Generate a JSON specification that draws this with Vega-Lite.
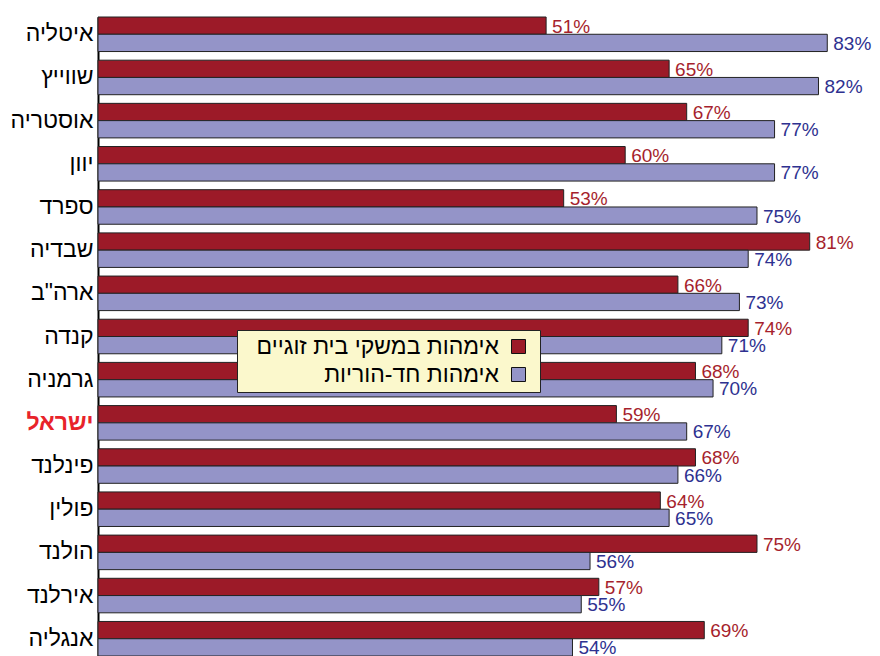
{
  "$schema": "https://vega.github.io/schema/vega-lite/v6.json",
  "width": 782,
  "height": 639,
  "autosize": {"type": "none"},
  "padding": {"left": 98, "top": 17, "right": 0, "bottom": 0},
  "background": "white",
  "config": {"view": {"stroke": null}, "font": "Liberation Sans"},
  "data": {
    "values": [
      {"country": "איטליה", "type": "אימהות במשקי בית זוגיים", "value": 0.51},
      {"country": "איטליה", "type": "אימהות חד-הוריות", "value": 0.83},
      {"country": "שווייץ", "type": "אימהות במשקי בית זוגיים", "value": 0.65},
      {"country": "שווייץ", "type": "אימהות חד-הוריות", "value": 0.82},
      {"country": "אוסטריה", "type": "אימהות במשקי בית זוגיים", "value": 0.67},
      {"country": "אוסטריה", "type": "אימהות חד-הוריות", "value": 0.77},
      {"country": "יוון", "type": "אימהות במשקי בית זוגיים", "value": 0.60},
      {"country": "יוון", "type": "אימהות חד-הוריות", "value": 0.77},
      {"country": "ספרד", "type": "אימהות במשקי בית זוגיים", "value": 0.53},
      {"country": "ספרד", "type": "אימהות חד-הוריות", "value": 0.75},
      {"country": "שבדיה", "type": "אימהות במשקי בית זוגיים", "value": 0.81},
      {"country": "שבדיה", "type": "אימהות חד-הוריות", "value": 0.74},
      {"country": "ארה\"ב", "type": "אימהות במשקי בית זוגיים", "value": 0.66},
      {"country": "ארה\"ב", "type": "אימהות חד-הוריות", "value": 0.73},
      {"country": "קנדה", "type": "אימהות במשקי בית זוגיים", "value": 0.74},
      {"country": "קנדה", "type": "אימהות חד-הוריות", "value": 0.71},
      {"country": "גרמניה", "type": "אימהות במשקי בית זוגיים", "value": 0.68},
      {"country": "גרמניה", "type": "אימהות חד-הוריות", "value": 0.70},
      {"country": "ישראל", "type": "אימהות במשקי בית זוגיים", "value": 0.59},
      {"country": "ישראל", "type": "אימהות חד-הוריות", "value": 0.67},
      {"country": "פינלנד", "type": "אימהות במשקי בית זוגיים", "value": 0.68},
      {"country": "פינלנד", "type": "אימהות חד-הוריות", "value": 0.66},
      {"country": "פולין", "type": "אימהות במשקי בית זוגיים", "value": 0.64},
      {"country": "פולין", "type": "אימהות חד-הוריות", "value": 0.65},
      {"country": "הולנד", "type": "אימהות במשקי בית זוגיים", "value": 0.75},
      {"country": "הולנד", "type": "אימהות חד-הוריות", "value": 0.56},
      {"country": "אירלנד", "type": "אימהות במשקי בית זוגיים", "value": 0.57},
      {"country": "אירלנד", "type": "אימהות חד-הוריות", "value": 0.55},
      {"country": "אנגליה", "type": "אימהות במשקי בית זוגיים", "value": 0.69},
      {"country": "אנגליה", "type": "אימהות חד-הוריות", "value": 0.54}
    ]
  },
  "encoding": {
    "y": {
      "field": "country",
      "type": "nominal",
      "sort": ["איטליה", "שווייץ", "אוסטריה", "יוון", "ספרד", "שבדיה", "ארה\"ב", "קנדה", "גרמניה", "ישראל", "פינלנד", "פולין", "הולנד", "אירלנד", "אנגליה"],
      "scale": {"paddingInner": 0.2, "paddingOuter": 0},
      "axis": {
        "title": null,
        "ticks": false,
        "domain": true,
        "domainColor": "#000000",
        "domainWidth": 2,
        "labelPadding": 5,
        "labelFontSize": 23,
        "labelFont": "Liberation Sans",
        "labelColor": {"expr": "datum.value == 'ישראל' ? '#e8232a' : '#000000'"},
        "labelFontWeight": {"expr": "datum.value == 'ישראל' ? 'bold' : 'normal'"}
      }
    },
    "yOffset": {
      "field": "type",
      "type": "nominal",
      "sort": ["אימהות במשקי בית זוגיים", "אימהות חד-הוריות"],
      "scale": {"paddingInner": 0, "paddingOuter": 0}
    },
    "x": {
      "field": "value",
      "type": "quantitative",
      "scale": {"domain": [0, 0.89], "nice": false},
      "axis": null
    }
  },
  "layer": [
    {
      "mark": {"type": "bar", "stroke": "#222222", "strokeWidth": 1},
      "encoding": {
        "color": {
          "field": "type",
          "type": "nominal",
          "scale": {"domain": ["אימהות במשקי בית זוגיים", "אימהות חד-הוריות"], "range": ["#9c1a28", "#9494c8"]},
          "legend": {
            "title": null,
            "orient": "none",
            "legendX": 139,
            "legendY": 313,
            "fillColor": "#fbf8cc",
            "strokeColor": "#222222",
            "padding": 5,
            "rowPadding": 4,
            "labelFontSize": 23,
            "labelFont": "Liberation Sans",
            "labelColor": "#000000",
            "labelLimit": 400,
            "labelAlign": "right",
            "labelOffset": -31,
            "symbolOffset": 265,
            "symbolType": "M-1,-1H1V1H-1Z M2,0",
            "symbolSize": 196,
            "symbolStrokeColor": "#111111",
            "symbolStrokeWidth": 1,
            "symbolOpacity": 1
          }
        }
      }
    },
    {
      "mark": {"type": "text", "align": "left", "baseline": "middle", "dx": 6, "dy": 1, "fontSize": 19, "font": "Liberation Sans"},
      "encoding": {
        "text": {"field": "value", "type": "quantitative", "format": ".0%"},
        "color": {
          "field": "type",
          "type": "nominal",
          "scale": {"domain": ["אימהות במשקי בית זוגיים", "אימהות חד-הוריות"], "range": ["#a61f2d", "#2e3190"]},
          "legend": null
        }
      }
    }
  ],
  "resolve": {"scale": {"color": "independent"}}
}
